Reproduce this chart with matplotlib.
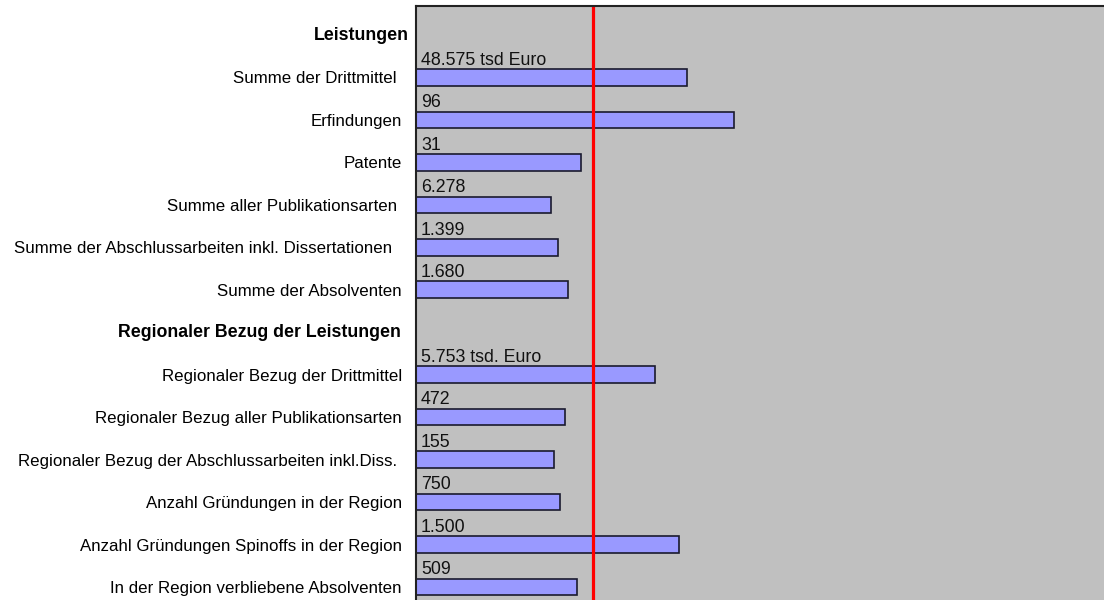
import numpy as np
import matplotlib
matplotlib.use("Agg")
import matplotlib.pyplot as plt
import matplotlib.transforms as mtransforms

plt.rcParams['font.family'] = ['Liberation Sans', 'DejaVu Sans']

# Zeilen (Überschriften ohne Balken)
labels = ['Leistungen',
          'Summe der Drittmittel ',
          'Erfindungen',
          'Patente',
          'Summe aller Publikationsarten ',
          'Summe der Abschlussarbeiten inkl. Dissertationen  ',
          'Summe der Absolventen',
          'Regionaler Bezug der Leistungen',
          'Regionaler Bezug der Drittmittel',
          'Regionaler Bezug aller Publikationsarten',
          'Regionaler Bezug der Abschlussarbeiten inkl.Diss. ',
          'Anzahl Gründungen in der Region',
          'Anzahl Gründungen Spinoffs in der Region',
          'In der Region verbliebene Absolventen']
is_header = [True, False, False, False, False, False, False,
             True, False, False, False, False, False, False]
# Index relativ zum Referenzwert (= 100, rote Linie)
values = [np.nan, 153.1, 179.6, 93.0, 76.2, 80.0, 86.1,
          np.nan, 135.1, 84.4, 78.2, 81.3, 148.5, 90.8]
value_text = ['', '48.575 tsd Euro', '96', '31', '6.278', '1.399', '1.680',
              '', '5.753 tsd. Euro', '472', '155', '750', '1.500', '509']
ref_value = 100

fig = plt.figure(figsize=(11.04, 6.0), dpi=100)
ax = fig.add_axes([0.3764, 0.99 - 1.0179, 0.643, 1.0179])
ax.set_facecolor('#c0c0c0')

y = np.arange(len(labels))
h = 0.39
ax.barh(y, values, height=h, color='#9999ff', edgecolor='#1a1a2e', linewidth=1.2)
for yi, v, t in zip(y, values, value_text):
    if t:
        ax.text(3, yi - h / 2 - 0.01, t, fontsize=12.8, va='bottom', ha='left', color='#111111')

ax.axvline(ref_value, color='#ff0000', lw=2.3)

ax.set_xlim(0, 400)
ax.set_ylim(13.7, -0.683)
ax.set_xticks([])
ax.set_yticks(y)
ax.set_yticklabels(['' if hd else lab for lab, hd in zip(labels, is_header)], fontsize=12.2)
ax.tick_params(axis='y', length=0, pad=10)

# Überschriften fett
trans = mtransforms.blended_transform_factory(ax.transAxes, ax.transData)
header_x = [-0.0095, -0.02]
for (yi, lab), hx in zip([(yi, lab) for yi, lab, hd in zip(y, labels, is_header) if hd], header_x):
    ax.text(hx, yi, lab, transform=trans, ha='right', va='center',
            fontsize=12.8, fontweight='bold')

for s in ax.spines.values():
    s.set_color('#222222')
    s.set_linewidth(1.5)

fig.savefig('out.png', dpi=100)
